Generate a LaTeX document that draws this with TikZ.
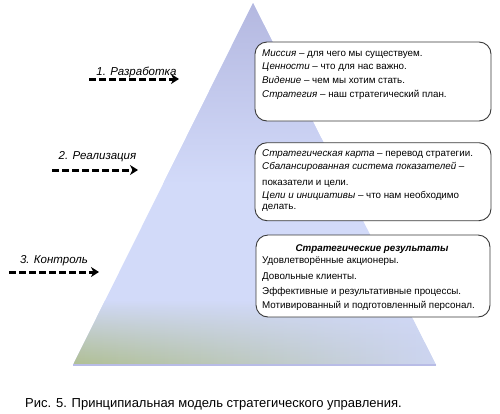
\documentclass[tikz,border=0pt]{standalone}
\usepackage{fontspec}
\setmainfont{Liberation Sans}
\usetikzlibrary{arrows.meta,fadings,calc}
\definecolor{triTop}{HTML}{B4B8E0}
\definecolor{triMid}{HTML}{D2DAF9}
\definecolor{triBot}{HTML}{CDD5F2}
\definecolor{triGreen}{HTML}{AEBE8E}
\definecolor{baseC}{HTML}{B8BCE6}
\definecolor{boxLine}{HTML}{3A3A3A}
\begin{document}
\begin{tikzpicture}[x=1pt,y=-1pt,
  box/.style={draw=boxLine, line width=0.9pt, rounded corners=12pt, fill=white, inner sep=0pt, outer sep=0pt},
  btxt/.style={anchor=base west, inner sep=0pt, font=\fontsize{9.8}{12}\selectfont},
  lbl/.style={anchor=base, inner sep=0pt, font=\fontsize{11.5}{14}\selectfont\itshape},
  darrow/.style={line width=3pt, dash pattern=on 6.5pt off 3.5pt, -{Stealth[length=8pt,width=10pt,inset=2.5pt]}}
]
\path[use as bounding box] (0,0) rectangle (500,413);
% triangle
\coordinate (apex) at (253,3);
\coordinate (bl) at (73,365);
\coordinate (br) at (436,365);
\fill[triMid] (apex) -- (br) -- (bl) -- cycle;
\begin{scope}
  \clip (apex) -- (br) -- (bl) -- cycle;
  \shade[top color=triMid, bottom color=triBot] (60,300) rectangle (440,366);
  \shade[left color=triGreen, right color=triBot, path fading=north] (60,300) rectangle (440,366);
\end{scope}
\shade[top color=triTop, bottom color=triMid] (apex) -- ($(apex)!0.5!(br)$) -- ($(apex)!0.5!(bl)$) -- cycle;
\draw[baseC, line width=1.5pt] (bl) -- (br);
% boxes
\node[box, minimum width=236pt, minimum height=79pt] (box1) at (373,81.5) {};
\node[box, minimum width=236pt, minimum height=78pt] (box2) at (373,181.7) {};
\node[box, minimum width=234pt, minimum height=82pt] (box3) at (373,276) {};
% box 1 text
\node[btxt] (t11) at (262,56) {\textit{Миссия} – для чего мы существуем.};
\node[btxt] (t12) at (262,69.5) {\textit{Ценности} – что для нас важно.};
\node[btxt] (t13) at (262,83.5) {\textit{Видение} – чем мы хотим стать.};
\node[btxt] (t14) at (262,97.5) {\textit{Стратегия} – наш стратегический план.};
% box 2 text
\node[btxt] (t21) at (262,156) {\textit{Стратегическая карта} – перевод стратегии.};
\node[btxt] (t22) at (262,169) {\textit{Сбалансированная система показателей} –};
\node[btxt] (t23) at (262,185) {показатели и цели.};
\node[btxt] (t24) at (262,198.5) {\textit{Цели и инициативы} – что нам необходимо};
\node[btxt] (t25) at (262,209.5) {делать.};
% box 3 text
\node[btxt, anchor=base] (t31) at (372,251) {\textbf{\textit{Стратегические результаты}}};
\node[btxt] (t32) at (262,263.5) {Удовлетворённые акционеры.};
\node[btxt] (t33) at (262,279.5) {Довольные клиенты.};
\node[btxt] (t34) at (262,294) {Эффективные и результативные процессы.};
\node[btxt] (t35) at (262,308.5) {Мотивированный и подготовленный персонал.};
% arrows
\coordinate (a1s) at (89,79);
\coordinate (a1e) at (179,79);
\coordinate (a2s) at (52,170);
\coordinate (a2e) at (138,170);
\coordinate (a3s) at (9,272);
\coordinate (a3e) at (99,272);
\draw[darrow] (a1s) -- (a1e);
\draw[darrow] (a2s) -- (a2e);
\draw[darrow] (a3s) -- (a3e);
\node[lbl] (l1) at (136.5,75) {1. Разработка};
\node[lbl] (l2) at (97.5,159) {2. Реализация};
\node[lbl] (l3) at (54,263) {3. Контроль};
% caption
\node[anchor=base west, inner sep=0pt, font=\fontsize{13}{15}\selectfont] (cap) at (25,407.5) {Рис. 5. Принципиальная модель стратегического управления.};
\end{tikzpicture}
\end{document}
